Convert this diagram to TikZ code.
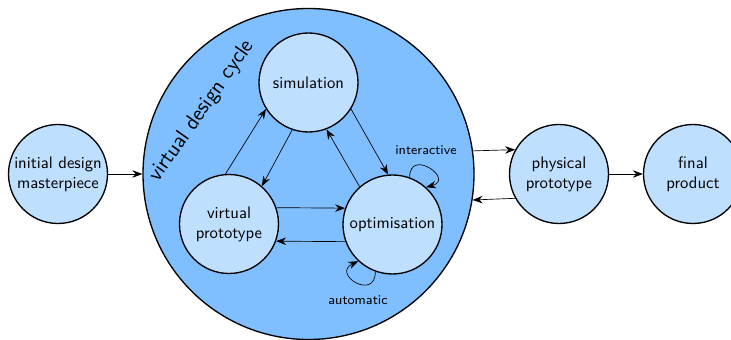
\documentclass[tikz,border=0pt]{standalone}
\usetikzlibrary{arrows.meta}
\renewcommand{\familydefault}{\sfdefault}
\definecolor{cyclefill}{RGB}{128,191,255}
\definecolor{statefill}{RGB}{191,223,255}

\begin{document}
\begin{tikzpicture}[x=0.6pt, y=0.6pt,
    >={Stealth[length=6pt, width=4.5pt, inset=2pt]},
    state/.style={draw, thick, circle, fill=statefill, align=center,
      minimum size=59.4pt, inner sep=0pt},
    looplabel/.style={font=\footnotesize}]
      \useasboundingbox (0,0) rectangle (731,340);

      % the virtual design cycle
      \node[draw, thick, circle, fill=cyclefill, minimum size=198.6pt](cycle) at (308.5,166) {};
      \node[rotate=55, font=\fontsize{13}{15}\selectfont](cyclelabel) at (202,229) {virtual design cycle};

      \node[state](init) at (58,166) {initial design\\masterpiece};
      \node[state](sim) at (308.5,257.5) {simulation};
      \node[state](virt) at (229,116) {virtual\\prototype};
      \node[state](opt) at (392.5,115.5) {optimisation};
      \node[state](phys) at (559,166) {physical\\prototype};
      \node[state](final) at (693,166) {final\\product};

      \path[->]
      (sim.251) edge (virt.49)
      (virt.94) edge (sim.212)
      (sim.328) edge (opt.95)
      (opt.131) edge (sim.291)
      (virt.19) edge (opt.161)
      (opt.200) edge (virt.340);

      % loops on the optimisation
      \draw[->] (opt.70) .. controls +(90:30) and +(15:30) .. (opt.48);
      \draw[->] (opt.250) .. controls +(270:30) and +(205:30) .. (opt.227);
      \node[looplabel](inter) at (426,190) {interactive};
      \node[looplabel](auto) at (358,40) {automatic};

      \path[->]
      (init) edge (cycle)
      (cycle.8.3) edge (phys.151)
      (phys.209) edge (cycle.351.3)
      (phys) edge (final);
    \end{tikzpicture}
\end{document}
